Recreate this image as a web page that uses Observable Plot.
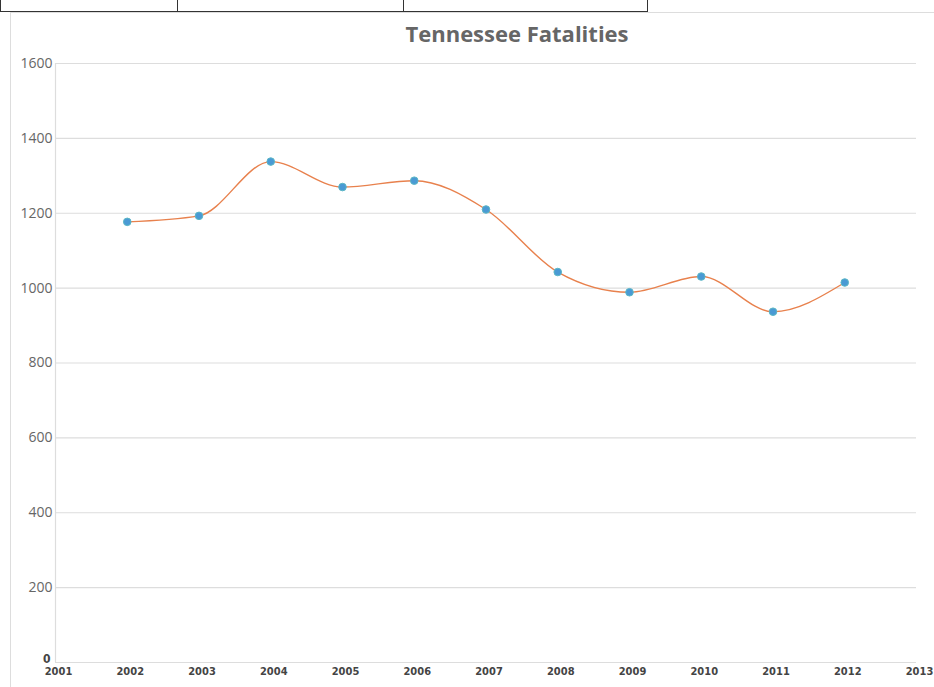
<!DOCTYPE html>
<html>
<head>
<meta charset="utf-8">
<script src="https://cdn.jsdelivr.net/npm/d3@7"></script>
<script src="https://cdn.jsdelivr.net/npm/@observablehq/plot@0.6"></script>
<style>
  html, body { margin: 0; padding: 0; background: #fff; }
  #wrap { position: relative; width: 934px; height: 687px; overflow: hidden; background: #fff; }
  #table { position: absolute; left: 0; top: 0; height: 11px; display: flex; border-bottom: 1px solid #333; border-left: 1px solid #333; }
  #table div { height: 11px; border-right: 1px solid #333; box-sizing: border-box; }
  #panel { position: absolute; left: 10px; top: 12px; width: 930px; height: 700px; border-left: 1px solid #ddd; border-top: 1px solid #ddd; }
  #title { position: absolute; left: 0; width: 1034px; top: 18px; text-align: center; font: bold 22px "Open Sans", sans-serif; color: #666; }
  #chart { position: absolute; left: 0; top: 0; }
</style>
</head>
<body>
<div id="wrap">
  <div id="table"><div style="width:177px"></div><div style="width:226px"></div><div style="width:244px"></div></div>
  <div id="panel"></div>
  <div id="title">Tennessee Fatalities</div>
  <div id="chart"></div>
</div>
<script>
const years = [2002, 2003, 2004, 2005, 2006, 2007, 2008, 2009, 2010, 2011, 2012];
const fatalities = [1177, 1193, 1338, 1270, 1287, 1210, 1043, 989, 1031, 937, 1015];
const xTicks = [2001, 2002, 2003, 2004, 2005, 2006, 2007, 2008, 2009, 2010, 2011, 2012, 2013];
const yTicks = [200, 400, 600, 800, 1000, 1200, 1400, 1600];

const data = years.map((y, i) => ({year: y, value: fatalities[i]}));

const chart = Plot.plot({
  width: 934,
  height: 687,
  marginLeft: 55,
  marginRight: 18,
  marginTop: 63,
  marginBottom: 25,
  style: {background: "transparent", overflow: "visible"},
  x: {domain: [2001, 2013]},
  y: {domain: [0, 1600]},
  marks: [
    Plot.gridY([0, ...yTicks], {stroke: "#ddd", strokeOpacity: 1, strokeWidth: 1.2}),
    Plot.ruleX([2001], {stroke: "#ddd", strokeWidth: 1.2}),
    Plot.axisY(yTicks, {tickSize: 0, tickPadding: 3, tickFormat: d => String(d), fontSize: 14, fontFamily: "Open Sans, sans-serif", fill: "#666", label: null}),
    Plot.axisY([0], {tickSize: 0, tickPadding: 5, tickFormat: d => String(d), fontSize: 12, fontWeight: "bold", fontFamily: "DejaVu Sans Condensed, sans-serif", fill: "#444", label: null, dy: -3}),
    Plot.axisX(xTicks, {tickSize: 0, tickPadding: 5, tickFormat: d => String(d), fontSize: 11, fontWeight: "bold", fontFamily: "DejaVu Sans Condensed, sans-serif", fill: "#444", label: null, dx: 3}),
    Plot.line(data, {x: "year", y: "value", curve: "monotone-x", stroke: "#e8814d", strokeWidth: 1.4}),
    Plot.dot(data, {x: "year", y: "value", r: 3.8, fill: "#4a9ad4", stroke: "#5bb7c6", strokeWidth: 1})
  ]
});
document.getElementById("chart").appendChild(chart);
</script>
</body>
</html>
